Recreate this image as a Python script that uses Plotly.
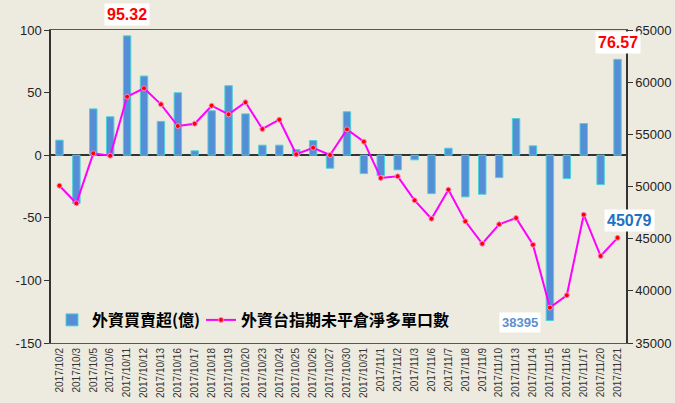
import plotly.graph_objects as go

dates = ["2017/10/2","2017/10/3","2017/10/5","2017/10/6","2017/10/11","2017/10/12","2017/10/13",
         "2017/10/16","2017/10/17","2017/10/18","2017/10/19","2017/10/20","2017/10/23","2017/10/24",
         "2017/10/25","2017/10/26","2017/10/27","2017/10/30","2017/10/31","2017/11/1","2017/11/2",
         "2017/11/3","2017/11/6","2017/11/7","2017/11/8","2017/11/9","2017/11/10","2017/11/13",
         "2017/11/14","2017/11/15","2017/11/16","2017/11/17","2017/11/20","2017/11/21"]

net_buy = [12, -38.5, 37, 30.7, 95.32, 63.2, 27, 49.9, 3.5, 35.5, 55.5, 33, 8, 8,
           4.5, 11.7, -10.4, 34.7, -14.7, -16.3, -11.7, -3.7, -30.7, 5.6, -33.3, -31.2,
           -17.9, 29.3, 7.5, -132, -18.7, 25.3, -23.5, 76.57]

net_long = [50077, 48389, 53181, 52952, 58607, 59412, 57878, 55798, 56019, 57744, 56920,
            58070, 55511, 56403, 53086, 53718, 53019, 55480, 54294, 50814, 50977, 48676,
            46913, 49693, 46664, 44517, 46376, 46980, 44421, 38395, 39571, 47297, 43338, 45079]

left_ticks = [-150, -100, -50, 0, 50, 100]
left_tick_labels = ["-150", "-100", "-50", "0", "50", "100"]

bar_name = "外資買賣超(億)"
line_name = "外資台指期未平倉淨多單口數"

BG = "#EDEBE0"
CJK = "Noto Sans CJK TC, Liberation Sans, sans-serif"

L, R, T, B = 51, 49, 30, 60
PW, PH = 675 - L - R, 403 - T - B

def px(xp):
    return (xp - L) / PW

def py(yp):
    return (403 - B - yp) / PH

fig = go.Figure()
fig.add_trace(go.Bar(
    x=dates, y=net_buy, name="<b>" + bar_name + "</b>",
    marker=dict(color="#558ED6", line=dict(color="#4DD2D6", width=1)),
    width=0.44, legend="legend",
))
fig.add_trace(go.Scatter(
    x=dates, y=net_long, name="<b>" + line_name + "</b>", yaxis="y2",
    mode="lines+markers",
    line=dict(color="#FF00FF", width=2),
    marker=dict(color="#FF0000", size=5, symbol="circle", line=dict(color="#FF88CC", width=1)),
    legend="legend2",
))

ann_box = dict(bgcolor="white", borderpad=2, showarrow=False, xref="paper", yref="paper",
               xanchor="center", yanchor="middle")
fig.add_annotation(x=px(127), y=py(15), text="<b>95.32</b>",
                   font=dict(color="#FF0000", size=16, family="Liberation Sans"), **ann_box)
fig.add_annotation(x=px(618), y=py(43), text="<b>76.57</b>",
                   font=dict(color="#FF0000", size=16, family="Liberation Sans"), **ann_box)
fig.add_annotation(x=px(629), y=py(220), text="<b>45079</b>",
                   font=dict(color="#1E72C0", size=16, family="Liberation Sans"), **ann_box)
fig.add_annotation(x=px(520), y=py(322), text="<b>38395</b>",
                   font=dict(color="#5B8FCF", size=13, family="Liberation Sans"), **ann_box)

leg_common = dict(orientation="h", yanchor="middle", xanchor="left", y=py(320),
                  bgcolor="rgba(0,0,0,0)", font=dict(family=CJK, size=16, color="black"))

fig.update_layout(
    width=675, height=403,
    margin=dict(l=L, r=R, t=T, b=B, autoexpand=False),
    paper_bgcolor=BG, plot_bgcolor=BG,
    font=dict(family="Liberation Sans, Arial, sans-serif", color="#222"),
    showlegend=True,
    legend=dict(x=px(52), **leg_common),
    legend2=dict(x=px(201), **leg_common),
    xaxis=dict(type="category", range=[-0.5, len(dates) - 0.5],
               tickangle=-90, tickfont=dict(size=10, color="#333"),
               showline=True, linecolor="#555", linewidth=1, mirror=True,
               ticks="", showgrid=False, zeroline=False, automargin=False),
    yaxis=dict(range=[-150, 100], tickvals=left_ticks, ticktext=left_tick_labels,
               showgrid=False, automargin=False,
               zeroline=True, zerolinecolor="#333", zerolinewidth=1.5,
               showline=True, linecolor="#333", linewidth=1.5,
               ticks="outside", ticklen=5, tickcolor="#333",
               tickfont=dict(size=13, color="#222")),
    yaxis2=dict(range=[35000, 65000], dtick=5000, overlaying="y", side="right",
                showgrid=False, zeroline=False, automargin=False, tickformat="d",
                showline=True, linecolor="#333", linewidth=1.5,
                ticks="outside", ticklen=5, tickcolor="#333",
                tickfont=dict(size=13, color="#222")),
)

fig.write_html("out.html", config={"displayModeBar": False},
               post_script="document.body.style.margin='0';document.body.style.overflow='hidden';")
